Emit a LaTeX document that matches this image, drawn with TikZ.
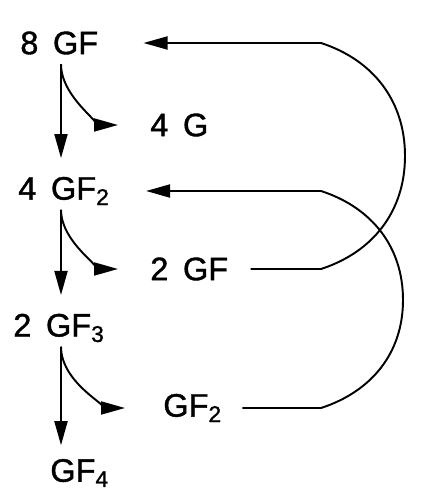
\documentclass[tikz,border=0pt]{standalone}
\usepackage{fontspec}
\setmainfont{Liberation Sans}[FakeBold=1.2]
\usetikzlibrary{arrows.meta}
\tikzset{
  spc/.style={inner sep=0pt,anchor=west,font=\fontsize{18.5}{22}\selectfont},
  rxn/.style={-{Triangle[length=0.48cm,width=0.26cm]},line width=1.1pt},
  dn/.style={rxn,shorten <=0.2cm,shorten >=0.37cm},
  side/.style={rxn,shorten <=0.2cm,shorten >=0.64cm},
  back/.style={rxn,shorten <=0.44cm,shorten >=0.9cm},
}
\newcommand{\gp}{\hspace{0.45em}}

\begin{document}
\begin{tikzpicture}[x=0.02cm,y=0.02cm]
\useasboundingbox (0,0) rectangle (441,490);
% species
\node[spc] (gf8) at (20,447) {8\gp GF};
\node[spc] (g4) at (150,365) {4\gp G};
\node[spc] (gf2a) at (18,299) {4\gp GF\textsubscript{2}};
\node[spc] (gf1) at (150,221) {2\gp GF};
\node[spc] (gf3) at (13,162) {2\gp GF\textsubscript{3}};
\node[spc] (gf2b) at (163,82) {GF\textsubscript{2}};
\node[spc] (gf4) at (50,17) {GF\textsubscript{4}};
\coordinate (vx) at (61,0);
\coordinate (rx) at (321,0);

% main chain
\draw[dn] (gf8.base -| vx) -- (gf2a.north -| vx);
\draw[dn] (gf2a.base -| vx) -- (gf3.north -| vx);
\draw[dn,shorten >=0.27cm] (gf3.base -| vx) -- (gf4.north -| vx);

% side products
\draw[side] (gf8.base -| vx) to[out=-90,in=180] (g4.west);
\draw[side] (gf2a.base -| vx) to[out=-90,in=180] (gf1.west);
\draw[side,shorten >=0.76cm] (gf3.base -| vx) to[out=-90,in=180] (gf2b.west);

% recycle
\draw[back] (gf1.east) -- (gf1.east -| rx) to[out=18,in=-90] (405,334)
  to[out=90,in=-18] (gf8.east -| rx) -- (gf8.east);
\draw[back,shorten <=0.4cm,shorten >=0.72cm] (gf2b.east) -- (gf2b.east -| rx)
  to[out=18,in=-90] (403,190) to[out=90,in=-18] (gf2a.east -| rx) -- (gf2a.east);
\end{tikzpicture}
\end{document}
